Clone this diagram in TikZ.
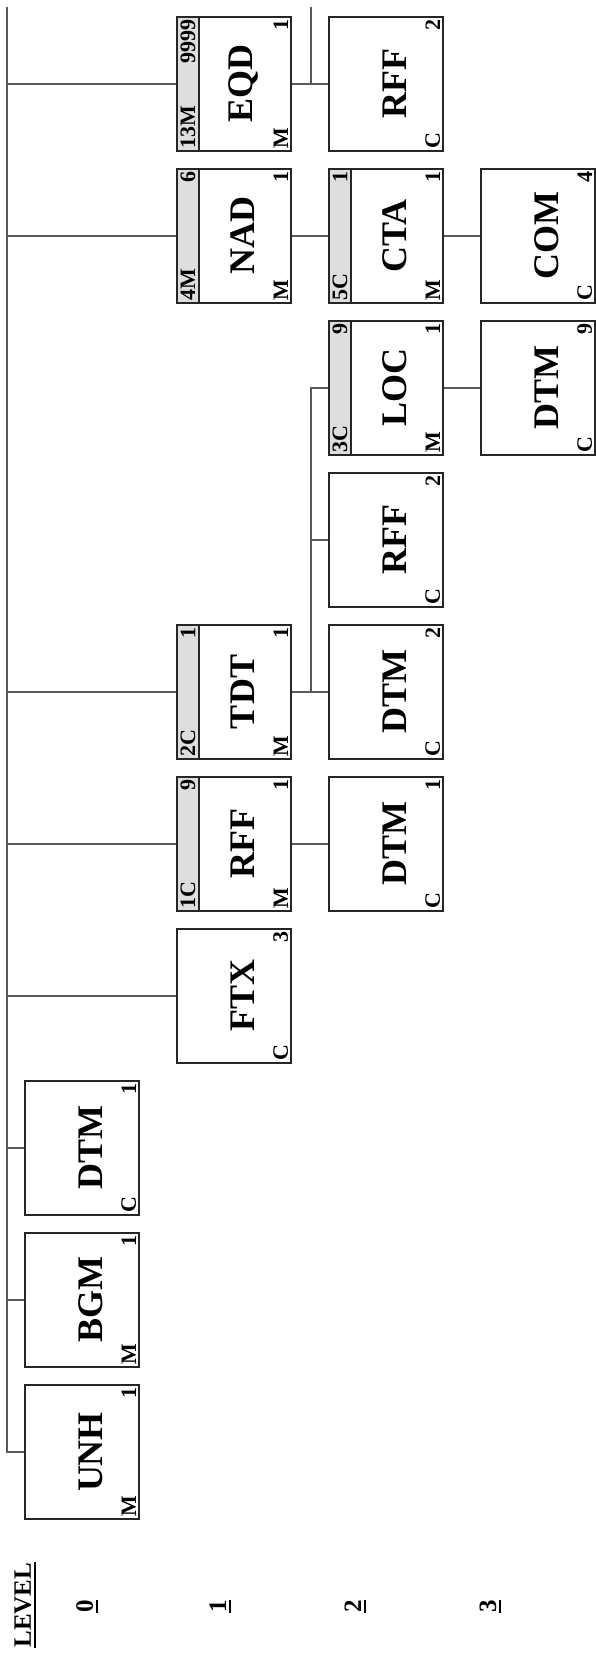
\documentclass[tikz,border=0pt]{standalone}
\usepackage{fontspec}
\setmainfont{Liberation Serif}
\usetikzlibrary{calc}

% segment box: name, u, v, tag, status, repeat
\newcommand{\segbox}[6]{%
  \node[segment] (#1) at (#2,#3) {};
  \node[segname] at (#2,#3-9) {#4};
  \node[corner, anchor=south west] at (#1.south west) {#5};
  \node[corner, anchor=south east] at (#1.south east) {#6};
}
% segment group box: as above + group number and group repeat
\newcommand{\grpbox}[8]{%
  \segbox{#1}{#2}{#3}{#4}{#5}{#6}
  \node[grpband, anchor=north] (#1band) at (#1.north) {};
  \node[corner, anchor=west] at (#1band.west) {#7};
  \node[corner, anchor=east] at (#1band.east) {#8};
}

\begin{document}
\begin{tikzpicture}[x=0.5pt, y=0.5pt, rotate=90, transform shape,
    segment/.style={draw=black!85, fill=white, line width=0.6pt, minimum width=67pt, minimum height=57pt, inner sep=0pt},
    grpband/.style={draw=black!85, fill=black!13, line width=0.6pt, minimum width=67pt, minimum height=11pt, inner sep=0pt},
    segname/.style={font=\fontsize{18}{18}\selectfont\bfseries, inner sep=0pt},
    corner/.style={font=\fontsize{11}{11}\selectfont\bfseries, inner sep=1.5pt},
    link/.style={draw=black!65, line width=0.6pt},
    lvl/.style={font=\fontsize{12.5}{12.5}\selectfont\bfseries, inner sep=0pt},
    lvlbar/.style={line width=1.3pt}]
    \useasboundingbox (0,-595) rectangle (1655,0);

    % level 0
    \segbox{unh}{203}{-82}{UNH}{M}{1}
    \segbox{bgm}{355}{-82}{BGM}{M}{1}
    \segbox{dtmA}{507}{-82}{DTM}{C}{1}
    % level 1
    \segbox{ftx}{659}{-234}{FTX}{C}{3}
    \grpbox{rffA}{811}{-234}{RFF}{M}{1}{1C}{9}
    \grpbox{tdt}{963}{-234}{TDT}{M}{1}{2C}{1}
    \grpbox{nad}{1419}{-234}{NAD}{M}{1}{4M}{6}
    \grpbox{eqd}{1571}{-234}{EQD}{M}{1}{13M}{9999}
    % level 2
    \segbox{dtmB}{811}{-386}{DTM}{C}{1}
    \segbox{dtmC}{963}{-386}{DTM}{C}{2}
    \segbox{rffB}{1115}{-386}{RFF}{C}{2}
    \grpbox{loc}{1267}{-386}{LOC}{M}{1}{3C}{9}
    \grpbox{cta}{1419}{-386}{CTA}{M}{1}{5C}{1}
    \segbox{rffC}{1571}{-386}{RFF}{C}{2}
    % level 3
    \segbox{dtmD}{1267}{-538}{DTM}{C}{9}
    \segbox{com}{1419}{-538}{COM}{C}{4}

    % trunk and branches
    \coordinate (trunkend) at (1648,-7);
    \coordinate (tdtfork) at (963,-311);
    \coordinate (eqdfork) at (1571,-311);
    \coordinate (eqdend) at (1648,-311);
    \draw[link] (unh.north) |- (trunkend);
    \foreach \s in {bgm,dtmA,ftx,rffAband,tdtband,nadband,eqdband}
        \draw[link] (\s.north) -- (\s.north |- trunkend);
    \draw[link] (rffA.south) -- (dtmB.north);
    \draw[link] (tdt.south) -- (dtmC.north);
    \draw[link] (tdtfork) -| (locband.north);
    \draw[link] (rffB.north) -- (rffB.north |- tdtfork);
    \draw[link] (nad.south) -- (ctaband.north);
    \draw[link] (eqd.south) -- (rffC.north);
    \draw[link] (eqdfork) -- (eqdend);
    \draw[link] (loc.south) -- (dtmD.north);
    \draw[link] (cta.south) -- (com.north);

    % level scale
    \node[lvl, anchor=base west] (lvltitle) at (7,-31) {LEVEL};
    \node[lvl, anchor=base west] (lvl0) at (42,-93) {0};
    \node[lvl, anchor=base west] (lvl1) at (42,-226) {1};
    \node[lvl, anchor=base west] (lvl2) at (42,-361) {2};
    \node[lvl, anchor=base west] (lvl3) at (42,-496) {3};
    \foreach \s in {lvltitle,lvl0,lvl1,lvl2,lvl3}
        \draw[lvlbar] ($(\s.base west)+(0,-4)$) -- ($(\s.base east)+(0,-4)$);
\end{tikzpicture}
\end{document}
